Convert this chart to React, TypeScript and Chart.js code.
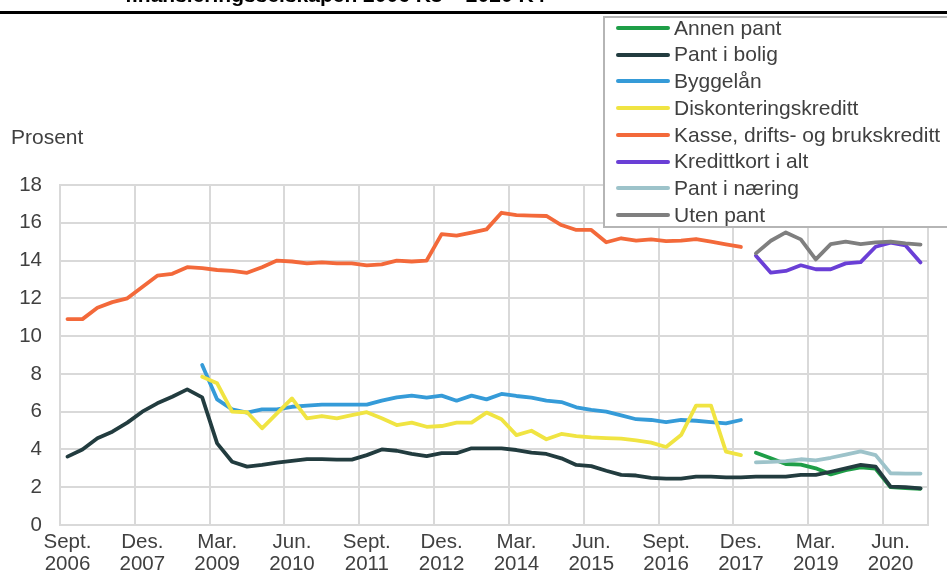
import React, { useEffect, useRef } from "react";
import { Chart, registerables } from "chart.js";

Chart.register(...registerables);

// Quarterly categories, 2006 K3 – 2020 K4
const categories = [
  "2006K3", "2006K4",
  "2007K1", "2007K2", "2007K3", "2007K4",
  "2008K1", "2008K2", "2008K3", "2008K4",
  "2009K1", "2009K2", "2009K3", "2009K4",
  "2010K1", "2010K2", "2010K3", "2010K4",
  "2011K1", "2011K2", "2011K3", "2011K4",
  "2012K1", "2012K2", "2012K3", "2012K4",
  "2013K1", "2013K2", "2013K3", "2013K4",
  "2014K1", "2014K2", "2014K3", "2014K4",
  "2015K1", "2015K2", "2015K3", "2015K4",
  "2016K1", "2016K2", "2016K3", "2016K4",
  "2017K1", "2017K2", "2017K3", "2017K4",
  "2018K1", "2018K2", "2018K3", "2018K4",
  "2019K1", "2019K2", "2019K3", "2019K4",
  "2020K1", "2020K2", "2020K3", "2020K4",
];

// One label every fifth quarter
const tickLabels = [
  ["Sept.", "2006"], ["Des.", "2007"], ["Mar.", "2009"], ["Jun.", "2010"],
  ["Sept.", "2011"], ["Des.", "2012"], ["Mar.", "2014"], ["Jun.", "2015"],
  ["Sept.", "2016"], ["Des.", "2017"], ["Mar.", "2019"], ["Jun.", "2020"],
];

const annenPant = [3.83, 3.53, 3.23, 3.2, 3.0, 2.68, 2.9, 3.05, 2.98, 2.0, 1.95, 1.92];
const pantIBolig = [
  3.62, 4.0, 4.59, 4.94, 5.42, 6.0, 6.44, 6.79, 7.18, 6.76,
  4.32, 3.35, 3.09, 3.18, 3.3, 3.4, 3.49, 3.49, 3.46, 3.46,
  3.7, 4.0, 3.93, 3.76, 3.65, 3.8, 3.8, 4.06, 4.06, 4.06,
  3.97, 3.83, 3.76, 3.53, 3.18, 3.12, 2.87, 2.65, 2.62, 2.5,
  2.45, 2.45, 2.56, 2.56, 2.52, 2.52, 2.56, 2.56, 2.56, 2.65,
  2.65, 2.82, 3.0, 3.18, 3.09, 2.03, 2.0, 1.94,
];
const byggelan = [
  8.47, 6.65, 6.12, 5.95, 6.12, 6.12, 6.26, 6.32, 6.37, 6.37, 6.37, 6.37,
  6.58, 6.76, 6.85, 6.74, 6.85, 6.58, 6.85, 6.65, 6.94,
  6.83, 6.74, 6.58, 6.51, 6.23, 6.09, 6.0, 5.8, 5.6, 5.56,
  5.45, 5.56, 5.52, 5.45, 5.38, 5.56,
];
const diskonteringskreditt = [
  7.85, 7.5, 6.0, 5.97, 5.12, 5.91, 6.7, 5.65, 5.77, 5.65, 5.82, 5.97,
  5.65, 5.29, 5.42, 5.2, 5.24, 5.42, 5.42, 5.95, 5.6,
  4.76, 4.99, 4.54, 4.82, 4.71, 4.64, 4.6, 4.57, 4.48, 4.36,
  4.13, 4.76, 6.32, 6.32, 3.88, 3.7,
];
const kasseKreditt = [
  10.9, 10.9, 11.5, 11.8, 12.0, 12.6, 13.2, 13.3, 13.65, 13.6,
  13.5, 13.45, 13.35, 13.65, 14.0, 13.95, 13.85, 13.9, 13.85, 13.85,
  13.75, 13.8, 14.0, 13.95, 14.0, 15.4, 15.32, 15.48, 15.65, 16.53,
  16.41, 16.38, 16.36, 15.88, 15.62, 15.62, 14.97, 15.18, 15.05, 15.12,
  15.03, 15.05, 15.14, 15.0, 14.86, 14.72,
];
const kredittkort = [14.26, 13.36, 13.45, 13.75, 13.54, 13.54, 13.85, 13.92, 14.73, 14.95, 14.8, 13.9];
const pantINaering = [3.32, 3.34, 3.38, 3.48, 3.42, 3.56, 3.73, 3.9, 3.7, 2.74, 2.72, 2.72];
const utenPant = [14.38, 15.05, 15.49, 15.12, 14.06, 14.87, 15.0, 14.87, 14.96, 15.0, 14.91, 14.84];

const series = [
  { label: "Annen pant", color: "#1e9e47", start: "2018K1", values: annenPant },
  { label: "Pant i bolig", color: "#223c3f", start: "2006K3", values: pantIBolig },
  { label: "Byggelån", color: "#359bd8", start: "2008K4", values: byggelan },
  { label: "Diskonteringskreditt", color: "#f0e442", start: "2008K4", values: diskonteringskreditt },
  { label: "Kasse, drifts- og brukskreditt", color: "#f3693a", start: "2006K3", values: kasseKreditt },
  { label: "Kredittkort i alt", color: "#6a3fd6", start: "2018K1", values: kredittkort },
  { label: "Pant i næring", color: "#9dc3ca", start: "2018K1", values: pantINaering },
  { label: "Uten pant", color: "#7f7f7f", start: "2018K1", values: utenPant },
];

const FONT = "'Liberation Sans', Arial, Helvetica, sans-serif";
const GRID = "#d9d9d9";
const TEXT = "#404040";

export default function App() {
  const ref = useRef<HTMLCanvasElement>(null);

  useEffect(() => {
    const canvas = ref.current;
    if (!canvas) return;
    const chart = new Chart(canvas, {
      type: "line",
      data: {
        labels: categories,
        datasets: series.map((s, i) => {
          const s0 = categories.indexOf(s.start);
          return {
            label: s.label,
            data: s.values.map((v, j) => ({ x: categories[s0 + j], y: v })),
            borderColor: s.color,
            backgroundColor: s.color,
            borderWidth: 3.8,
            pointRadius: 0,
            pointHoverRadius: 0,
            tension: 0,
            fill: false,
            borderJoinStyle: "round",
            borderCapStyle: "round",
            order: series.length - i,
          };
        }),
      },
      options: {
        animation: false,
        responsive: false,
        maintainAspectRatio: false,
        layout: { padding: { top: 185, right: 19, bottom: 0, left: 0 } },
        plugins: {
          legend: { display: false },
          title: { display: false },
          tooltip: { enabled: false },
        },
        scales: {
          x: {
            type: "category",
            offset: true,
            grid: {
              offset: true,
              drawTicks: false,
              lineWidth: 2,
              color: (c: any) =>
                c.index === undefined || c.index % 5 === 0 ? GRID : "rgba(0,0,0,0)",
            },
            border: { display: true, color: GRID, width: 2 },
            ticks: {
              autoSkip: false,
              maxRotation: 0,
              minRotation: 0,
              padding: 6,
              color: TEXT,
              font: { family: FONT, size: 20.5, lineHeight: 1.1 },
              callback: (_v: any, i: number) => (i % 5 === 0 ? tickLabels[i / 5] : ""),
            },
            afterFit: (s: any) => {
              s.height = 51;
            },
          },
          y: {
            min: 0,
            max: 18,
            grid: { drawTicks: false, lineWidth: 2, color: GRID },
            border: { display: true, color: GRID, width: 2 },
            ticks: {
              stepSize: 2,
              padding: 18,
              color: TEXT,
              font: { family: FONT, size: 20.5 },
            },
            afterFit: (s: any) => {
              s.width = 60;
            },
          },
        },
      },
    } as any);
    return () => chart.destroy();
  }, []);

  return (
    <div
      style={{
        position: "fixed",
        left: 0,
        top: 0,
        width: 947,
        height: 576,
        overflow: "hidden",
        background: "#fff",
        fontFamily: FONT,
      }}
    >
      <canvas ref={ref} width={947} height={576} style={{ display: "block", position: "absolute", left: 0, top: 0 }} />
      <div
        style={{
          position: "absolute",
          left: 125,
          top: -16,
          fontSize: 21,
          lineHeight: "21px",
          fontWeight: "bold",
          whiteSpace: "nowrap",
          color: "#000",
        }}
      >
        finansieringsselskapen 2006 K3 – 2020 K4
      </div>
      <div style={{ position: "absolute", left: 0, top: 11, width: 947, height: 3, background: "#000" }} />
      <div
        style={{
          position: "absolute",
          left: 11,
          top: 126,
          fontSize: 21,
          lineHeight: "21px",
          color: TEXT,
          whiteSpace: "nowrap",
        }}
      >
        Prosent
      </div>
      <div
        style={{
          position: "absolute",
          left: 603,
          top: 16,
          width: 500,
          height: 212,
          boxSizing: "border-box",
          border: "2px solid #b5b5b5",
          background: "#fff",
        }}
      />
      {series.map((s, k) => (
        <div
          key={s.label}
          style={{
            position: "absolute",
            left: 616,
            top: 14.6 + k * 26.75,
            height: 26.75,
            lineHeight: "26.75px",
            fontSize: 21,
            color: TEXT,
            whiteSpace: "nowrap",
          }}
        >
          <span
            style={{
              position: "absolute",
              left: 0,
              top: 11.4,
              width: 54,
              height: 4,
              borderRadius: 2,
              background: s.color,
            }}
          />
          <span style={{ position: "absolute", left: 58, top: 0 }}>{s.label}</span>
        </div>
      ))}
    </div>
  );
}
